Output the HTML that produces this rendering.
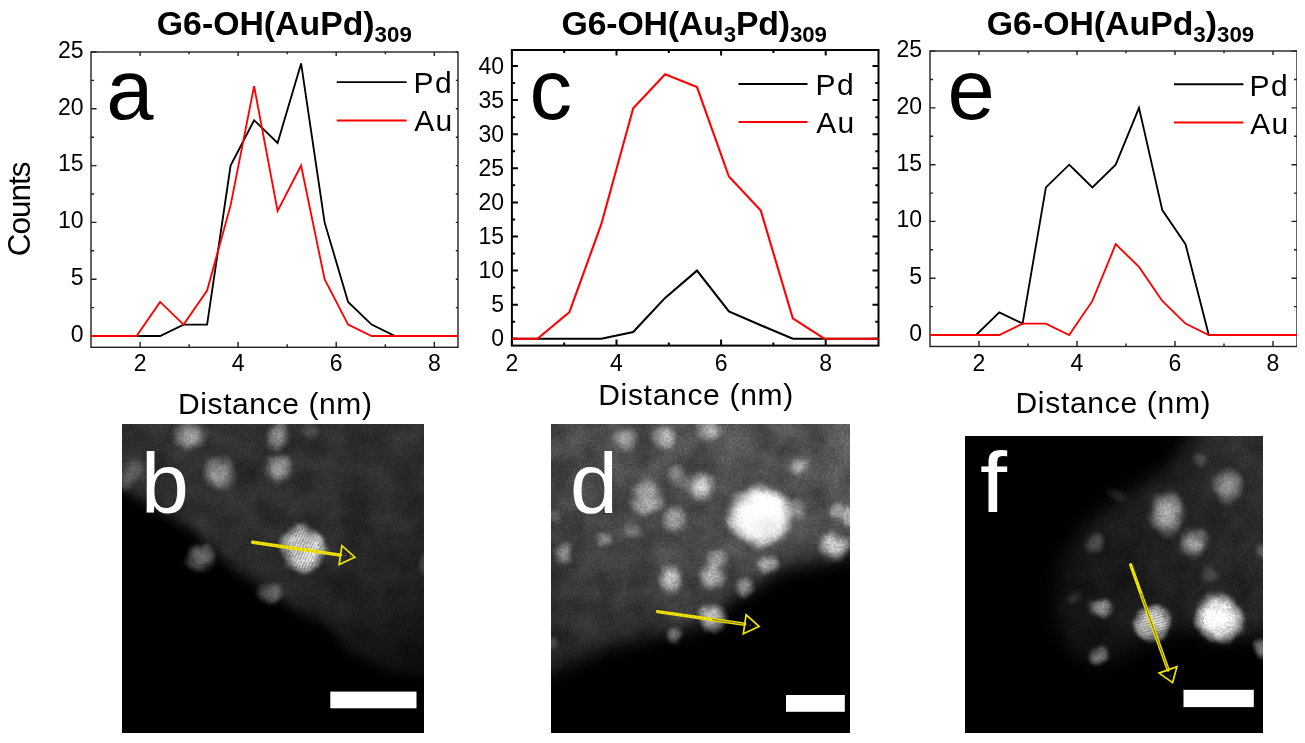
<!DOCTYPE html>
<html><head><meta charset="utf-8"><title>Figure</title>
<style>html,body{margin:0;padding:0;background:#fff;}svg{display:block;font-family:'Liberation Sans', sans-serif;}text{fill:#000;}</style>
</head><body>
<svg width="1305" height="743" viewBox="0 0 1305 743">
<defs>
<radialGradient id="bg"><stop offset="0" stop-color="#fff" stop-opacity="1"/><stop offset="0.35" stop-color="#fff" stop-opacity="0.9"/><stop offset="0.65" stop-color="#fff" stop-opacity="0.5"/><stop offset="0.85" stop-color="#fff" stop-opacity="0.15"/><stop offset="1" stop-color="#fff" stop-opacity="0"/></radialGradient>
<radialGradient id="bh"><stop offset="0" stop-color="#fff" stop-opacity="1"/><stop offset="0.55" stop-color="#fff" stop-opacity="0.95"/><stop offset="0.78" stop-color="#fff" stop-opacity="0.55"/><stop offset="0.92" stop-color="#fff" stop-opacity="0.15"/><stop offset="1" stop-color="#fff" stop-opacity="0"/></radialGradient>
<linearGradient id="gb" gradientUnits="userSpaceOnUse" x1="300" y1="430" x2="380" y2="690"><stop offset="0" stop-color="#303030"/><stop offset="0.45" stop-color="#292929"/><stop offset="0.7" stop-color="#1e1e1e"/><stop offset="0.9" stop-color="#101010"/><stop offset="1" stop-color="#0a0a0a"/></linearGradient>
<linearGradient id="gd" gradientUnits="userSpaceOnUse" x1="760" y1="440" x2="600" y2="670"><stop offset="0" stop-color="#525252"/><stop offset="0.55" stop-color="#444"/><stop offset="1" stop-color="#2a2a2a"/></linearGradient>
<linearGradient id="gf" gradientUnits="userSpaceOnUse" x1="1260" y1="500" x2="1060" y2="600"><stop offset="0" stop-color="#2c2c2c"/><stop offset="0.5" stop-color="#1f1f1f"/><stop offset="1" stop-color="#121212"/></linearGradient>
<filter id="b8" x="-20%" y="-20%" width="140%" height="140%" color-interpolation-filters="sRGB"><feGaussianBlur stdDeviation="8"/></filter>
<filter id="b6" x="-20%" y="-20%" width="140%" height="140%" color-interpolation-filters="sRGB"><feGaussianBlur stdDeviation="6"/></filter>
<filter id="b10" x="-20%" y="-20%" width="140%" height="140%" color-interpolation-filters="sRGB"><feGaussianBlur stdDeviation="10"/></filter>
<filter id="b3" x="-20%" y="-20%" width="140%" height="140%" color-interpolation-filters="sRGB"><feGaussianBlur stdDeviation="3"/></filter>
<filter id="b05" x="-20%" y="-20%" width="140%" height="140%" color-interpolation-filters="sRGB"><feGaussianBlur stdDeviation="0.6"/></filter>
<filter id="bd" x="-5%" y="-5%" width="110%" height="110%" color-interpolation-filters="sRGB"><feTurbulence type="fractalNoise" baseFrequency="0.06" numOctaves="2" seed="7" result="t"/><feDisplacementMap in="SourceGraphic" in2="t" scale="9" xChannelSelector="R" yChannelSelector="G" result="d"/><feGaussianBlur in="d" stdDeviation="1.1"/></filter>
<filter id="soft" x="0" y="0" width="100%" height="100%" color-interpolation-filters="sRGB"><feGaussianBlur stdDeviation="0.35"/></filter>
<filter id="b1" x="-20%" y="-20%" width="140%" height="140%" color-interpolation-filters="sRGB"><feGaussianBlur stdDeviation="1.2"/></filter>
<filter id="mul" x="0" y="0" width="100%" height="100%" color-interpolation-filters="sRGB"><feTurbulence type="fractalNoise" baseFrequency="0.45" numOctaves="2" seed="5" result="n"/><feColorMatrix in="n" type="matrix" values="1 0 0 0 0  1 0 0 0 0  1 0 0 0 0  0 0 0 0 1" result="g"/><feComposite in="SourceGraphic" in2="g" operator="arithmetic" k1="0.5" k2="0.75" k3="0" k4="0" result="r1"/><feTurbulence type="fractalNoise" baseFrequency="0.035" numOctaves="3" seed="11" result="n2"/><feColorMatrix in="n2" type="matrix" values="1 0 0 0 0  1 0 0 0 0  1 0 0 0 0  0 0 0 0 1" result="g2"/><feComposite in="r1" in2="g2" operator="arithmetic" k1="0.7" k2="0.66" k3="0" k4="0"/></filter>
<filter id="grain" x="0" y="0" width="100%" height="100%"><feTurbulence type="fractalNoise" baseFrequency="0.55" numOctaves="2" seed="3"/><feColorMatrix type="matrix" values="0 0 0 0 1  0 0 0 0 1  0 0 0 0 1  0.9 0 0 0 -0.25"/></filter>
<clipPath id="cb"><rect x="122" y="424" width="302" height="309"/></clipPath>
<clipPath id="cd"><rect x="551" y="424" width="299" height="309"/></clipPath>
<clipPath id="cf"><rect x="965" y="436" width="298" height="297"/></clipPath>
<clipPath id="ca"><rect x="91" y="52" width="367" height="295.3"/></clipPath>
</defs>
<rect width="1305" height="743" fill="#fff"/>
<g filter="url(#soft)">
<text transform="translate(29.7 256.2) rotate(-90)" font-size="31.5" letter-spacing="-1.0">Counts</text>
<rect x="91.0" y="52.0" width="367.0" height="295.3" fill="none" stroke="#222" stroke-width="1.40"/>
<path d="M140.1 347.3v-5.5M140.1 52.0v4.0M189.1 347.3v-3.0M189.1 52.0v2.2M238.1 347.3v-5.5M238.1 52.0v4.0M287.2 347.3v-3.0M287.2 52.0v2.2M336.2 347.3v-5.5M336.2 52.0v4.0M385.3 347.3v-3.0M385.3 52.0v2.2M434.3 347.3v-5.5M434.3 52.0v4.0M91.0 336.0h5.5M458.0 336.0h-2.2M91.0 307.6h3.0M458.0 307.6h-2.2M91.0 279.2h5.5M458.0 279.2h-2.2M91.0 250.8h3.0M458.0 250.8h-2.2M91.0 222.4h5.5M458.0 222.4h-2.2M91.0 194.0h3.0M458.0 194.0h-2.2M91.0 165.6h5.5M458.0 165.6h-2.2M91.0 137.2h3.0M458.0 137.2h-2.2M91.0 108.8h5.5M458.0 108.8h-2.2M91.0 80.4h3.0M458.0 80.4h-2.2M91.0 52.0h5.5M458.0 52.0h-2.2" stroke="#222" stroke-width="1.40" fill="none"/>
<polyline points="91.0,336.0 136.6,336.0 160.1,336.0 183.6,324.6 207.1,324.6 230.6,165.6 254.1,120.2 277.6,142.9 301.1,63.4 324.6,222.4 348.1,301.9 371.6,324.6 395.1,336.0 458.0,336.0" fill="none" stroke="#000" stroke-width="1.85" stroke-linejoin="miter"/>
<polyline points="91.0,336.0 136.6,336.0 160.1,301.9 183.6,324.6 207.1,290.6 230.6,205.4 254.1,86.1 277.6,211.0 301.1,165.6 324.6,279.2 348.1,324.6 371.6,336.0 395.1,336.0 458.0,336.0" fill="none" stroke="#ff0000" stroke-width="1.85" stroke-linejoin="miter"/>
<text x="140.1" y="371.0" font-size="23" text-anchor="middle">2</text>
<text x="238.1" y="371.0" font-size="23" text-anchor="middle">4</text>
<text x="336.2" y="371.0" font-size="23" text-anchor="middle">6</text>
<text x="434.3" y="371.0" font-size="23" text-anchor="middle">8</text>
<text x="83.5" y="341.8" font-size="23" text-anchor="end">0</text>
<text x="83.5" y="285.0" font-size="23" text-anchor="end">5</text>
<text x="83.5" y="228.2" font-size="23" text-anchor="end">10</text>
<text x="83.5" y="171.4" font-size="23" text-anchor="end">15</text>
<text x="83.5" y="114.6" font-size="23" text-anchor="end">20</text>
<text x="83.5" y="57.8" font-size="23" text-anchor="end">25</text>
<path d="M336.8 82.1H406.6" stroke="#000" stroke-width="1.85"/>
<path d="M336.8 120.5H406.6" stroke="#ff0000" stroke-width="1.85"/>
<text x="413.6" y="93.3" font-size="30" letter-spacing="1.30">Pd</text>
<text x="414.2" y="131.4" font-size="30" letter-spacing="1.30">Au</text>
<text x="106.3" y="119.0" font-size="85">a</text>
<text x="178.0" y="414.4" font-size="30" letter-spacing="0.60">Distance (nm)</text>
<text x="156.8" y="34.8" font-size="33.8" font-weight="bold">G6-OH(AuPd)<tspan font-size="22.3" dy="6.8">309</tspan></text>
<rect x="511.9" y="50.0" width="366.6" height="295.6" fill="none" stroke="#000" stroke-width="2.00"/>
<path d="M511.9 345.6v-6.0M511.9 50.0v5.4M564.2 345.6v-3.2M564.2 50.0v2.9M616.5 345.6v-6.0M616.5 50.0v5.4M668.8 345.6v-3.2M668.8 50.0v2.9M721.1 345.6v-6.0M721.1 50.0v5.4M773.4 345.6v-3.2M773.4 50.0v2.9M825.7 345.6v-6.0M825.7 50.0v5.4M511.9 338.8h6.0M878.5 338.8h-6.0M511.9 321.8h3.2M878.5 321.8h-3.2M511.9 304.7h6.0M878.5 304.7h-6.0M511.9 287.6h3.2M878.5 287.6h-3.2M511.9 270.6h6.0M878.5 270.6h-6.0M511.9 253.6h3.2M878.5 253.6h-3.2M511.9 236.5h6.0M878.5 236.5h-6.0M511.9 219.4h3.2M878.5 219.4h-3.2M511.9 202.4h6.0M878.5 202.4h-6.0M511.9 185.3h3.2M878.5 185.3h-3.2M511.9 168.3h6.0M878.5 168.3h-6.0M511.9 151.2h3.2M878.5 151.2h-3.2M511.9 134.2h6.0M878.5 134.2h-6.0M511.9 117.2h3.2M878.5 117.2h-3.2M511.9 100.1h6.0M878.5 100.1h-6.0M511.9 83.1h3.2M878.5 83.1h-3.2M511.9 66.0h6.0M878.5 66.0h-6.0" stroke="#000" stroke-width="2.00" fill="none"/>
<polyline points="511.9,338.8 537.5,338.8 569.4,338.8 601.3,338.8 633.2,332.0 665.1,297.9 697.0,270.6 728.9,311.5 760.8,325.2 792.8,338.8 824.7,338.8 878.5,338.8" fill="none" stroke="#000" stroke-width="2.10" stroke-linejoin="miter"/>
<polyline points="511.9,338.8 537.5,338.8 569.4,312.2 601.3,224.2 633.2,108.3 665.1,74.2 697.0,87.1 728.9,176.5 760.8,210.6 792.8,318.3 824.7,338.8 878.5,338.8" fill="none" stroke="#ff0000" stroke-width="2.10" stroke-linejoin="miter"/>
<text x="511.9" y="371.0" font-size="23" text-anchor="middle">2</text>
<text x="616.5" y="371.0" font-size="23" text-anchor="middle">4</text>
<text x="721.1" y="371.0" font-size="23" text-anchor="middle">6</text>
<text x="825.7" y="371.0" font-size="23" text-anchor="middle">8</text>
<text x="504.0" y="346.3" font-size="23" text-anchor="end">0</text>
<text x="504.0" y="312.2" font-size="23" text-anchor="end">5</text>
<text x="504.0" y="278.1" font-size="23" text-anchor="end">10</text>
<text x="504.0" y="244.0" font-size="23" text-anchor="end">15</text>
<text x="504.0" y="209.9" font-size="23" text-anchor="end">20</text>
<text x="504.0" y="175.8" font-size="23" text-anchor="end">25</text>
<text x="504.0" y="141.7" font-size="23" text-anchor="end">30</text>
<text x="504.0" y="107.6" font-size="23" text-anchor="end">35</text>
<text x="504.0" y="73.5" font-size="23" text-anchor="end">40</text>
<path d="M738.5 84.0H807.5" stroke="#000" stroke-width="2.10"/>
<path d="M738.5 122.0H807.5" stroke="#ff0000" stroke-width="2.10"/>
<text x="815.6" y="94.5" font-size="30" letter-spacing="1.30">Pd</text>
<text x="816.2" y="132.5" font-size="30" letter-spacing="1.30">Au</text>
<text x="529.5" y="118.8" font-size="85">c</text>
<text x="598.2" y="405.3" font-size="30" letter-spacing="0.70">Distance (nm)</text>
<text x="561.5" y="34.8" font-size="33.8" font-weight="bold" letter-spacing="-0.15">G6-OH(Au<tspan font-size="22.3" dy="6.8">3</tspan><tspan dy="-6.8">Pd)</tspan><tspan font-size="22.3" dy="6.8">309</tspan></text>
<rect x="930.0" y="51.0" width="367.0" height="295.5" fill="none" stroke="#222" stroke-width="1.40"/>
<path d="M979.0 346.5v-5.5M979.0 51.0v4.0M1028.0 346.5v-3.0M1028.0 51.0v2.2M1077.0 346.5v-5.5M1077.0 51.0v4.0M1126.0 346.5v-3.0M1126.0 51.0v2.2M1175.0 346.5v-5.5M1175.0 51.0v4.0M1224.0 346.5v-3.0M1224.0 51.0v2.2M1273.0 346.5v-5.5M1273.0 51.0v4.0M930.0 335.0h5.5M1297.0 335.0h-5.5M930.0 306.6h3.0M1297.0 306.6h-3.0M930.0 278.2h5.5M1297.0 278.2h-5.5M930.0 249.8h3.0M1297.0 249.8h-3.0M930.0 221.4h5.5M1297.0 221.4h-5.5M930.0 193.1h3.0M1297.0 193.1h-3.0M930.0 164.7h5.5M1297.0 164.7h-5.5M930.0 136.3h3.0M1297.0 136.3h-3.0M930.0 107.9h5.5M1297.0 107.9h-5.5M930.0 79.5h3.0M1297.0 79.5h-3.0M930.0 51.1h5.5M1297.0 51.1h-5.5" stroke="#222" stroke-width="1.40" fill="none"/>
<polyline points="930.0,335.0 976.1,335.0 999.3,312.3 1022.6,323.6 1045.9,187.4 1069.2,164.7 1092.4,187.4 1115.7,164.7 1139.0,107.9 1162.3,210.1 1185.5,244.2 1208.8,335.0 1297.0,335.0" fill="none" stroke="#000" stroke-width="1.85" stroke-linejoin="miter"/>
<polyline points="930.0,335.0 976.1,335.0 999.3,335.0 1022.6,323.6 1045.9,323.6 1069.2,335.0 1092.4,300.9 1115.7,244.2 1139.0,266.9 1162.3,300.9 1185.5,323.6 1208.8,335.0 1297.0,335.0" fill="none" stroke="#ff0000" stroke-width="1.85" stroke-linejoin="miter"/>
<text x="979.0" y="371.0" font-size="23" text-anchor="middle">2</text>
<text x="1077.0" y="371.0" font-size="23" text-anchor="middle">4</text>
<text x="1175.0" y="371.0" font-size="23" text-anchor="middle">6</text>
<text x="1273.0" y="371.0" font-size="23" text-anchor="middle">8</text>
<text x="922.0" y="340.8" font-size="23" text-anchor="end">0</text>
<text x="922.0" y="284.0" font-size="23" text-anchor="end">5</text>
<text x="922.0" y="227.2" font-size="23" text-anchor="end">10</text>
<text x="922.0" y="170.5" font-size="23" text-anchor="end">15</text>
<text x="922.0" y="113.7" font-size="23" text-anchor="end">20</text>
<text x="922.0" y="56.9" font-size="23" text-anchor="end">25</text>
<path d="M1174.0 84.2H1243.4" stroke="#000" stroke-width="1.85"/>
<path d="M1174.0 122.5H1243.4" stroke="#ff0000" stroke-width="1.85"/>
<text x="1249.6" y="95.6" font-size="30" letter-spacing="1.30">Pd</text>
<text x="1250.2" y="133.7" font-size="30" letter-spacing="1.30">Au</text>
<text x="947.4" y="119.0" font-size="85">e</text>
<text x="1015.5" y="412.9" font-size="30" letter-spacing="0.70">Distance (nm)</text>
<text x="986.8" y="34.8" font-size="33.8" font-weight="bold">G6-OH(AuPd<tspan font-size="22.3" dy="6.8">3</tspan><tspan dy="-6.8">)</tspan><tspan font-size="22.3" dy="6.8">309</tspan></text>
</g>
<g clip-path="url(#cb)"><g filter="url(#mul)">
<rect x="122" y="424" width="302" height="309" fill="#000"/>
<path d="M100 400H450V676L423 676L386 672L352 653L328 625L292 608L240 574L190 528L150 505L100 476Z" fill="url(#gb)" filter="url(#b6)"/>
<g filter="url(#bd)">
<ellipse cx="190.2" cy="434.5" rx="20.0" ry="18.0" fill="url(#bg)" opacity="0.45"/>
<ellipse cx="277.4" cy="437.0" rx="13.0" ry="17.0" fill="url(#bg)" opacity="0.48" transform="rotate(15 277.4 437.0)"/>
<ellipse cx="311.0" cy="432.0" rx="11.0" ry="10.0" fill="url(#bg)" opacity="0.16"/>
<ellipse cx="219.3" cy="473.3" rx="20.0" ry="20.0" fill="url(#bg)" opacity="0.50"/>
<ellipse cx="278.6" cy="468.4" rx="17.0" ry="17.0" fill="url(#bg)" opacity="0.50"/>
<ellipse cx="134.5" cy="471.0" rx="15.0" ry="15.0" fill="url(#bg)" opacity="0.16"/>
<ellipse cx="125.0" cy="482.0" rx="9.0" ry="11.0" fill="url(#bg)" opacity="0.14"/>
<ellipse cx="201.0" cy="558.0" rx="18.0" ry="16.0" fill="url(#bg)" opacity="0.48"/>
<ellipse cx="270.0" cy="593.0" rx="15.0" ry="12.0" fill="url(#bg)" opacity="0.36"/>
<ellipse cx="425.0" cy="563.0" rx="9.0" ry="15.0" fill="url(#bg)" opacity="0.18"/>
<ellipse cx="302.5" cy="549.0" rx="25.0" ry="26.5" fill="url(#bh)" opacity="0.86"/>
</g>
<clipPath id="sc302"><ellipse cx="302.5" cy="549.0" rx="19.0" ry="21.0"/></clipPath><g clip-path="url(#sc302)" opacity="0.22" filter="url(#b05)"><g transform="rotate(25 302.5 549.0)"><path d="M277.5 524.0V574.0M280.2 524.0V574.0M282.9 524.0V574.0M285.6 524.0V574.0M288.3 524.0V574.0M291.0 524.0V574.0M293.7 524.0V574.0M296.4 524.0V574.0M299.1 524.0V574.0M301.8 524.0V574.0M304.5 524.0V574.0M307.2 524.0V574.0M309.9 524.0V574.0M312.6 524.0V574.0M315.3 524.0V574.0M318.0 524.0V574.0M320.7 524.0V574.0M323.4 524.0V574.0M326.1 524.0V574.0" stroke="#000" stroke-width="1.22" fill="none"/></g></g>
</g>
<path d="M252.7 542.3L340.5 555.1" stroke="#ece400" stroke-width="3.4" stroke-linecap="round"/><path d="M254.7 542.6L352.3 556.8" stroke="#e07800" stroke-width="1" stroke-dasharray="1.2 3.6" opacity="0.8"/><path d="M354.8 557.2L339.1 564.6L341.9 545.6Z" fill="none" stroke="#ece400" stroke-width="1.7" stroke-linejoin="miter"/>
<rect x="330.3" y="691.6" width="86.2" height="16.7" fill="#fff"/>
<text x="141" y="512.6" font-size="86" style="fill:#fff">b</text>
</g>
<g clip-path="url(#cd)"><g filter="url(#mul)">
<rect x="551" y="424" width="299" height="309" fill="#000"/>
<path d="M530 400H870V550L782 566L752 584L725 603L690 628L642 635L593 651L530 680Z" fill="url(#gd)" filter="url(#b10)"/>
<g filter="url(#bd)">
<ellipse cx="626.1" cy="439.4" rx="15.0" ry="15.0" fill="url(#bg)" opacity="0.45"/>
<ellipse cx="664.9" cy="437.0" rx="16.0" ry="15.0" fill="url(#bg)" opacity="0.47"/>
<ellipse cx="709.7" cy="428.5" rx="18.0" ry="15.0" fill="url(#bg)" opacity="0.50"/>
<ellipse cx="798.0" cy="467.0" rx="13.0" ry="13.0" fill="url(#bg)" opacity="0.39"/>
<ellipse cx="678.2" cy="477.0" rx="14.0" ry="14.0" fill="url(#bg)" opacity="0.35"/>
<ellipse cx="701.2" cy="486.6" rx="18.0" ry="17.0" fill="url(#bg)" opacity="0.68"/>
<ellipse cx="646.7" cy="497.5" rx="21.0" ry="21.0" fill="url(#bg)" opacity="0.65"/>
<ellipse cx="674.6" cy="519.3" rx="16.0" ry="16.0" fill="url(#bg)" opacity="0.47"/>
<ellipse cx="796.9" cy="508.4" rx="12.0" ry="13.0" fill="url(#bg)" opacity="0.47"/>
<ellipse cx="836.8" cy="512.0" rx="11.0" ry="11.0" fill="url(#bg)" opacity="0.39"/>
<ellipse cx="834.4" cy="546.0" rx="18.0" ry="18.0" fill="url(#bg)" opacity="0.73"/>
<ellipse cx="604.3" cy="538.7" rx="10.0" ry="10.0" fill="url(#bg)" opacity="0.35"/>
<ellipse cx="632.2" cy="531.4" rx="10.0" ry="11.0" fill="url(#bg)" opacity="0.21"/>
<ellipse cx="563.2" cy="553.2" rx="13.0" ry="13.0" fill="url(#bg)" opacity="0.45"/>
<ellipse cx="555.9" cy="515.7" rx="9.0" ry="9.0" fill="url(#bg)" opacity="0.21"/>
<ellipse cx="717.0" cy="559.3" rx="14.0" ry="13.0" fill="url(#bg)" opacity="0.41"/>
<ellipse cx="712.1" cy="576.0" rx="16.0" ry="16.0" fill="url(#bg)" opacity="0.57"/>
<ellipse cx="670.9" cy="579.5" rx="14.0" ry="18.0" fill="url(#bg)" opacity="0.59"/>
<ellipse cx="769.0" cy="565.0" rx="13.0" ry="12.0" fill="url(#bg)" opacity="0.47"/>
<ellipse cx="744.8" cy="587.5" rx="12.0" ry="11.0" fill="url(#bg)" opacity="0.42"/>
<ellipse cx="849.0" cy="515.7" rx="8.0" ry="13.0" fill="url(#bg)" opacity="0.47"/>
<ellipse cx="712.1" cy="618.1" rx="17.0" ry="18.0" fill="url(#bg)" opacity="0.73"/>
<ellipse cx="674.6" cy="633.9" rx="10.0" ry="11.0" fill="url(#bg)" opacity="0.39"/>
<ellipse cx="552.3" cy="642.3" rx="7.0" ry="8.0" fill="url(#bg)" opacity="0.25"/>
<ellipse cx="760.5" cy="516.0" rx="37.0" ry="34.0" fill="url(#bh)" opacity="1.00"/>
</g>
</g>
<g filter="url(#b3)"><ellipse cx="760.5" cy="516.0" rx="31.0" ry="28.0" fill="url(#bh)" opacity="0.75"/></g>
<path d="M657.6 611.6L744.7 624.3" stroke="#ece400" stroke-width="3.4" stroke-linecap="round"/><path d="M659.6 611.9L756.5 626.0" stroke="#e07800" stroke-width="1" stroke-dasharray="1.2 3.6" opacity="0.8"/><path d="M712.0 619.5L744.7 624.3" stroke="#5a4a00" stroke-width="0.9" opacity="0.75"/><path d="M759.0 626.4L743.3 633.8L746.1 614.8Z" fill="none" stroke="#ece400" stroke-width="1.7" stroke-linejoin="miter"/>
<rect x="786" y="695" width="58.8" height="16.8" fill="#fff"/>
<text x="570" y="512.6" font-size="86" style="fill:#fff">d</text>
</g>
<g clip-path="url(#cf)"><g filter="url(#mul)">
<rect x="965" y="436" width="298" height="297" fill="#000"/>
<path d="M1206 410H1290V628L1226 640L1190 630L1166 634L1134 646L1117 660L1083 660L1060 634L1055 596L1060 566L1082 530L1118 500L1170 470Z" fill="url(#gf)" filter="url(#b10)"/>
<g filter="url(#bd)">
<ellipse cx="1228.8" cy="485.7" rx="18.0" ry="21.0" fill="url(#bg)" opacity="0.50"/>
<ellipse cx="1199.8" cy="460.3" rx="9.0" ry="9.0" fill="url(#bg)" opacity="0.18"/>
<ellipse cx="1167.1" cy="513.6" rx="20.0" ry="26.0" fill="url(#bg)" opacity="0.62"/>
<ellipse cx="1194.9" cy="542.6" rx="18.0" ry="18.0" fill="url(#bg)" opacity="0.52"/>
<ellipse cx="1095.6" cy="542.6" rx="13.0" ry="13.0" fill="url(#bg)" opacity="0.27"/>
<ellipse cx="1117.4" cy="495.4" rx="15.0" ry="7.0" fill="url(#bg)" opacity="0.10"/>
<ellipse cx="1262.0" cy="551.0" rx="8.0" ry="11.0" fill="url(#bg)" opacity="0.28"/>
<ellipse cx="1209.5" cy="575.3" rx="10.0" ry="9.0" fill="url(#bg)" opacity="0.15"/>
<ellipse cx="1100.5" cy="608.4" rx="16.0" ry="11.0" fill="url(#bg)" opacity="0.46"/>
<ellipse cx="1073.8" cy="596.3" rx="10.0" ry="11.0" fill="url(#bg)" opacity="0.12"/>
<ellipse cx="1098.0" cy="655.7" rx="13.0" ry="11.0" fill="url(#bg)" opacity="0.44"/>
<ellipse cx="1262.0" cy="647.2" rx="9.0" ry="13.0" fill="url(#bg)" opacity="0.50"/>
<ellipse cx="1219.5" cy="618.8" rx="26.0" ry="29.0" fill="url(#bh)" opacity="0.84" transform="rotate(-35 1219.5 618.8)"/>
<ellipse cx="1152.5" cy="623.0" rx="20.0" ry="20.0" fill="url(#bh)" opacity="0.75"/>
</g>
<clipPath id="sc1152"><ellipse cx="1152.5" cy="623.0" rx="15.0" ry="15.0"/></clipPath><g clip-path="url(#sc1152)" opacity="0.22" filter="url(#b05)"><g transform="rotate(75 1152.5 623.0)"><path d="M1133.5 604.0V642.0M1136.1 604.0V642.0M1138.7 604.0V642.0M1141.3 604.0V642.0M1143.9 604.0V642.0M1146.5 604.0V642.0M1149.1 604.0V642.0M1151.7 604.0V642.0M1154.3 604.0V642.0M1156.9 604.0V642.0M1159.5 604.0V642.0M1162.1 604.0V642.0M1164.7 604.0V642.0M1167.3 604.0V642.0M1169.9 604.0V642.0" stroke="#000" stroke-width="1.17" fill="none"/></g></g>
</g>
<path d="M1130.7 564.8L1168.1 669.9" stroke="#ece400" stroke-width="3.4" stroke-linecap="round"/><path d="M1131.4 566.7L1171.8 680.2" stroke="#e07800" stroke-width="1" stroke-dasharray="1.2 3.6" opacity="0.8"/><path d="M1140.8 593.1L1168.1 669.9" stroke="#5a4a00" stroke-width="0.9" opacity="0.75"/><path d="M1172.6 682.6L1159.1 673.1L1177.0 666.7Z" fill="none" stroke="#ece400" stroke-width="1.7" stroke-linejoin="miter"/>
<rect x="1183.5" y="689.8" width="70.3" height="17.3" fill="#fff"/>
<text x="980" y="511.6" font-size="86" textLength="27" lengthAdjust="spacingAndGlyphs" style="fill:#fff">f</text>
</g>
</svg>
</body></html>
